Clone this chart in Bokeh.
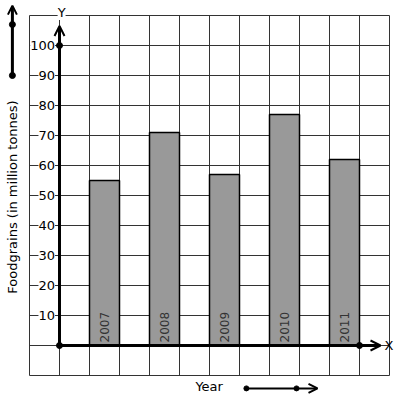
import math
from bokeh.plotting import figure
from bokeh.models import ColumnDataSource, LabelSet, Label, Arrow, OpenHead
from bokeh.core.properties import value
from bokeh.embed import file_html
from bokeh.resources import INLINE

years = ["2007", "2008", "2009", "2010", "2011"]
values = [55, 71, 57, 77, 62]
y_ticks = [10, 20, 30, 40, 50, 60, 70, 80, 90, 100]
y_tick_labels = [str(v) for v in y_ticks]
x_grid = list(range(-1, 12))
y_grid = list(range(-10, 120, 10))

FONT = "DejaVu Sans"

p = figure(width=397, height=401, x_range=(-59 / 30, 338 / 30), y_range=(-56 / 3, 115),
           x_axis_location=None, y_axis_location=None, toolbar_location=None,
           output_backend="svg", min_border=0)
p.outline_line_color = None
p.background_fill_color = "white"
p.xgrid.visible = False
p.ygrid.visible = False

# grid
p.segment(x0=x_grid, y0=[y_grid[0]] * len(x_grid), x1=x_grid, y1=[y_grid[-1]] * len(x_grid),
          line_color="#333333", line_width=1)
p.segment(x0=[x_grid[0]] * len(y_grid), y0=y_grid, x1=[x_grid[-1]] * len(y_grid), y1=y_grid,
          line_color="#333333", line_width=1)

xc = [2 * i + 1.5 for i in range(len(years))]
src = ColumnDataSource(dict(x=xc, top=values, year=years, ly=[1] * len(years)))
p.vbar(x="x", top="top", bottom=0, width=1, source=src, fill_color="#999999",
       line_color="black", line_width=1.5)
p.add_layout(LabelSet(x="x", y="ly", text="year", source=src, angle=math.pi / 2,
                      text_align="left", text_baseline="middle", text_font=value(FONT),
                      text_font_size=value("12px"), text_color=value("#333333")))

# axes
p.add_layout(Arrow(x_start=0, y_start=0, x_end=0, y_end=106.5, line_width=3,
                   end=OpenHead(size=10, line_width=2)))
p.add_layout(Arrow(x_start=0, y_start=0, x_end=10.7, y_end=0, line_width=3,
                   end=OpenHead(size=10, line_width=2)))
p.scatter(x=[0, 0, 10], y=[0, 100, 0], size=6, color="black")

tsrc = ColumnDataSource(dict(x=[-0.15] * len(y_ticks), y=y_ticks, t=y_tick_labels))
p.add_layout(LabelSet(x="x", y="y", text="t", source=tsrc, text_align="right",
                      text_baseline="middle", text_font=value(FONT),
                      text_font_size=value("13px"), text_color=value("black"),
                      background_fill_color="white"))

p.add_layout(Label(x=0.07, y=111, text="Y", text_align="center", text_baseline="middle",
                   text_font=FONT, text_font_size="13px", text_color="black",
                   background_fill_color="white"))
p.add_layout(Label(x=10.83, y=0, text="X", text_align="left", text_baseline="middle",
                   text_font=FONT, text_font_size="13px", text_color="black"))

# y-label and side arrow
p.add_layout(Label(x=-1.57, y=49.5, text="Foodgrains (in million tonnes)", angle=math.pi / 2,
                   text_align="center", text_baseline="middle", text_font=FONT,
                   text_font_size="13px", text_color="black"))
p.add_layout(Arrow(x_start=-1.57, y_start=90, x_end=-1.57, y_end=113.3, line_width=3,
                   end=OpenHead(size=9, line_width=2)))
p.scatter(x=[-1.57, -1.57], y=[90, 107], size=6, color="black")

# x-label and bottom arrow
p.add_layout(Label(x=4.53, y=-13.8, text="Year", text_align="left", text_baseline="middle",
                   text_font=FONT, text_font_size="13px", text_color="black"))
p.add_layout(Arrow(x_start=6.23, y_start=-14.3, x_end=8.6, y_end=-14.3, line_width=2,
                   end=OpenHead(size=9, line_width=2)))
p.scatter(x=[6.23, 7.9], y=[-14.3, -14.3], size=5, color="black")

open("out.html", "w").write(file_html(p, INLINE))
